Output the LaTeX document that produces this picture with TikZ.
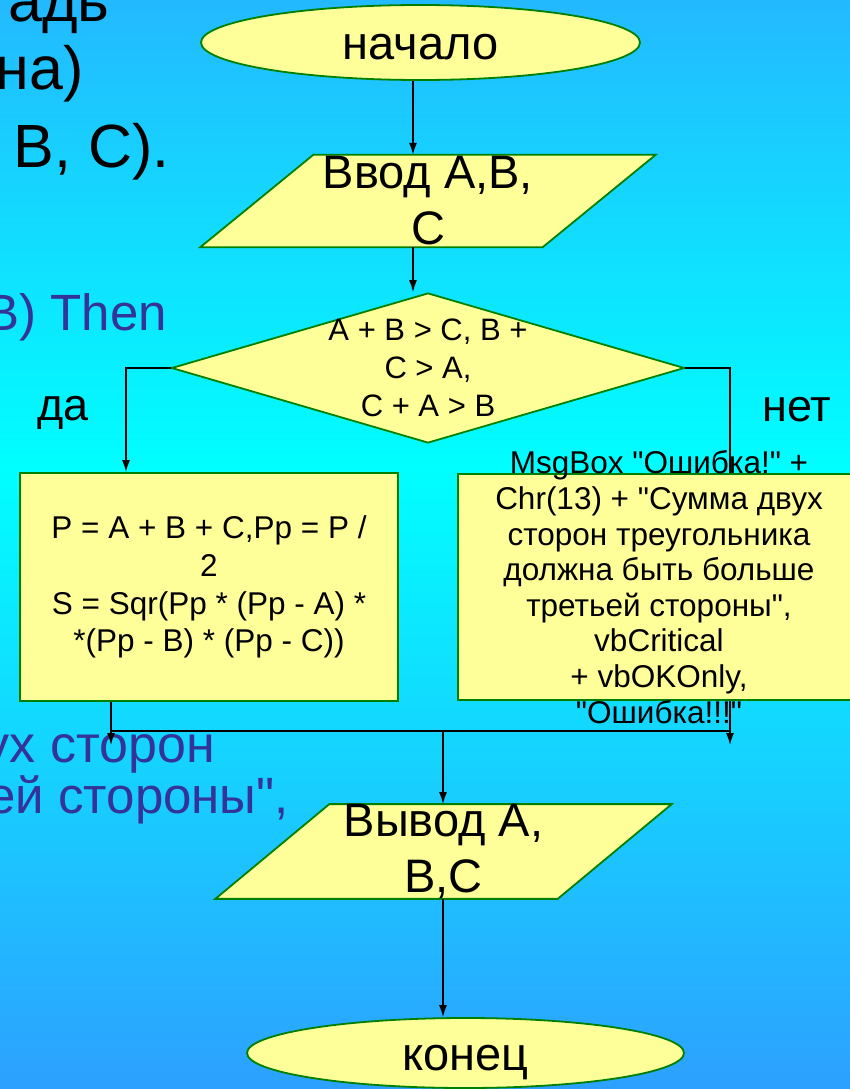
\documentclass[tikz,border=0pt]{standalone}
\usepackage{fontspec}
\setmainfont{Liberation Sans}[Ligatures=TeXOff]
\usetikzlibrary{shapes.geometric,arrows.meta}
\pgfdeclarelayer{background}
\pgfsetlayers{background,main}
\definecolor{bgtop}{RGB}{35,185,255}
\definecolor{bgmid}{RGB}{0,255,255}
\definecolor{bgbot}{RGB}{45,160,255}
\definecolor{boxfill}{RGB}{255,255,153}
\definecolor{boxline}{RGB}{0,128,0}
\definecolor{slidetext}{RGB}{51,51,153}
\tikzset{
	shapeline/.style={fill=boxfill, draw=boxline, line width=1.8pt},
	terminal/.style={shapeline, ellipse, inner sep=0pt, text height=34pt, text depth=0pt, font=\fontsize{47}{56}\selectfont},
	iobox/.style={minimum width=342pt, minimum height=92pt, inner sep=0pt, align=center, font=\fontsize{47}{56}\selectfont},
	cond/.style={shapeline, diamond, minimum width=513pt, minimum height=150pt, inner sep=0pt},
	procbox/.style={shapeline, rectangle, inner sep=0pt, align=center},
	line/.style={line width=1.5pt, black},
	arr/.style={line, -{Latex[length=12pt,width=8pt]}},
	slide/.style={inner sep=0pt, anchor=base east, font=\fontsize{61}{70}\selectfont}
}
\begin{document}
\begin{tikzpicture}[x=1pt,y=-1pt]
	\useasboundingbox (0,0) rectangle (850,1089);
	%slide background and text behind the chart
	\begin{pgfonlayer}{background}
		\shade[top color=bgtop, bottom color=bgmid] (0,0) rectangle (850,470);
		\shade[top color=bgmid, bottom color=bgbot] (0,470) rectangle (850,1089);
		\node[slide] (bg1) at (110,22) {адь};
		\node[slide] (bg2) at (84,90) {на)};
		\node[slide] (bg3) at (170,167) {B, C).};
		\node[slide, slidetext, font=\fontsize{51}{60}\selectfont] (bg4) at (167,330) {B) Then};
		\node[slide, slidetext, font=\fontsize{52}{52}\selectfont] (bg5) at (215,762) {ух сторон};
		\node[slide, slidetext, font=\fontsize{51}{51}\selectfont] (bg6) at (289,813) {ей стороны",};
	\end{pgfonlayer}

	%blocks
	\node[terminal, minimum width=439pt, minimum height=75pt] (start) at (420.5,42.5) {начало}; %start
	\node[iobox] (in) at (428,201) {Ввод А,В,\\С}; %input
	\node[cond] (cond) at (428,368) {}; %condition
	\node[align=center, inner sep=0pt, font=\fontsize{31}{38}\selectfont] (condtxt) at (cond.center) {A + B > C, B +\\C > A,\\C + A > B};

	%branch labels
	\node[anchor=base, inner sep=0pt, font=\fontsize{45}{54}\selectfont] (yes) at (63,420) {да};
	\node[anchor=base, inner sep=0pt, font=\fontsize{45}{54}\selectfont] (no) at (797,421) {нет};

	%free ends of the connectors
	\coordinate (ax) at (413,0);
	\coordinate (lend) at (111,745);
	\coordinate (rend) at (730,745);
	\coordinate (jn) at (443,731);

	\draw[arr] (cond.east) -| (rend); %no branch, under the box

	\node[procbox, minimum width=378pt, minimum height=228pt, font=\fontsize{31.5}{37.7}\selectfont] (calc) at (209,587) {P = A + B + C,Pp = P /\\2\\S = Sqr(Pp * (Pp - A) *\\*(Pp - B) * (Pp - C))}; %yes box
	\node[procbox, minimum width=402pt, minimum height=226pt] (err) at (659,587) {}; %no box
	\node[align=center, inner sep=0pt, font=\fontsize{31.5}{35.6}\selectfont] (errtxt) at (err.center) {MsgBox "Ошибка!" +\\Chr(13) + "Сумма двух\\сторон треугольника\\должна быть больше\\третьей стороны",\\vbCritical\\+ vbOKOnly,\\"Ошибка!!!"};

	\node[iobox] (out) at (443.5,851.5) {Вывод А,\\В,С}; %output
	\node[terminal, minimum width=437pt, minimum height=70pt] (stop) at (465.5,1053) {конец}; %end

	%parallelograms behind the texts
	\begin{pgfonlayer}{background}
		\path[shapeline] ([xshift=56.5pt]in.north west) -- ([xshift=56.5pt]in.north east) -- ([xshift=-56.5pt]in.south east) -- ([xshift=-56.5pt]in.south west) -- cycle;
		\path[shapeline] ([xshift=57pt]out.north west) -- ([xshift=57pt]out.north east) -- ([xshift=-57pt]out.south east) -- ([xshift=-57pt]out.south west) -- cycle;
	\end{pgfonlayer}

	%connectors
	\draw[arr] (start.south -| ax) -- (in.north -| ax);
	\draw[arr] (in.south -| ax) -- (cond.north -| ax);
	\draw[arr] (cond.west) -| ([xshift=-83pt]calc.north); %yes branch
	\draw[arr] (calc.south -| lend) -- (lend);
	\draw[line] (lend |- jn) -- (rend |- jn); %join
	\draw[arr] (jn) -- (out.north -| jn);
	\draw[arr] (out.south -| jn) -- (stop.north -| jn);
\end{tikzpicture}
\end{document}
